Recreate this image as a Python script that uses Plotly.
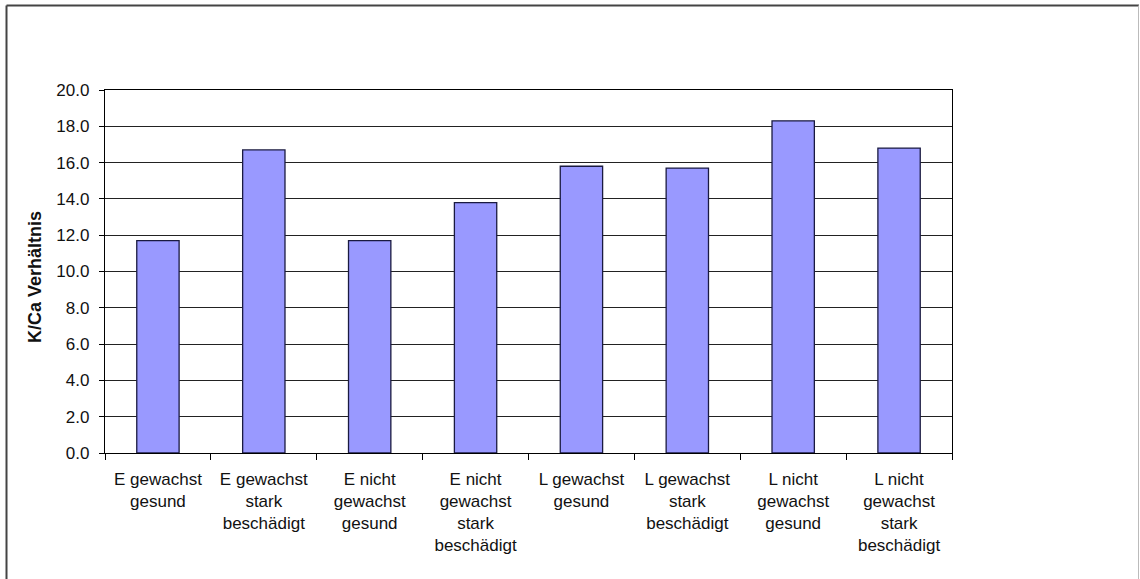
import plotly.graph_objects as go

categories = [
    "E gewachst<br>gesund",
    "E gewachst<br>stark<br>beschädigt",
    "E nicht<br>gewachst<br>gesund",
    "E nicht<br>gewachst<br>stark<br>beschädigt",
    "L gewachst<br>gesund",
    "L gewachst<br>stark<br>beschädigt",
    "L nicht<br>gewachst<br>gesund",
    "L nicht<br>gewachst<br>stark<br>beschädigt",
]
values = [11.7, 16.7, 11.7, 13.8, 15.8, 15.7, 18.3, 16.8]
y_title = "K/Ca Verhältnis"

W, H = 1140, 579
L, R, T, B = 105, 952, 90, 453
pw, ph = R - L, B - T

def px(x):
    return (x - L) / pw

def py(y):
    return (B - y) / ph

FONT = "Liberation Sans, Arial, sans-serif"

fig = go.Figure(
    go.Bar(
        x=categories,
        y=values,
        marker=dict(color="#9999FF", line=dict(color="#1a1a40", width=1.3)),
        width=0.4,
    )
)

fig.update_layout(
    width=W,
    height=H,
    margin=dict(l=L, r=W - R, t=T, b=H - B),
    paper_bgcolor="white",
    plot_bgcolor="white",
    showlegend=False,
    font=dict(family=FONT, size=17, color="#111111"),
    bargap=0.6,
)

fig.update_xaxes(
    showline=True,
    linecolor="#000000",
    linewidth=1.3,
    mirror=True,
    ticks="outside",
    ticklen=6,
    tickcolor="#000000",
    tickson="boundaries",
    showgrid=False,
    tickfont=dict(size=17),
    tickangle=0,
    ticklabelstandoff=10,
)

fig.update_yaxes(
    range=[0, 20],
    dtick=2,
    tick0=0,
    tickformat=".1f",
    showline=True,
    linecolor="#000000",
    linewidth=1.3,
    mirror=True,
    ticks="outside",
    ticklen=5,
    tickcolor="#000000",
    showgrid=True,
    gridcolor="#222222",
    gridwidth=1.2,
    tickfont=dict(size=17),
    ticklabelstandoff=6,
    zeroline=False,
)

fig.add_annotation(
    text="<b>" + y_title + "</b>",
    xref="paper", yref="paper",
    x=px(35), y=py(277),
    showarrow=False,
    textangle=-90,
    font=dict(size=18, family=FONT, color="#111111"),
    xanchor="center", yanchor="middle",
)

# outer frame of the chart area
fig.add_shape(type="line", xref="paper", yref="paper",
              x0=px(6.5), x1=px(6.5), y0=py(5.5), y1=py(585),
              line=dict(color="#444444", width=2))
fig.add_shape(type="line", xref="paper", yref="paper",
              x0=px(6.5), x1=px(1139), y0=py(5.5), y1=py(5.5),
              line=dict(color="#444444", width=2))
fig.add_shape(type="line", xref="paper", yref="paper",
              x0=px(1138.5), x1=px(1138.5), y0=py(5.5), y1=py(585),
              line=dict(color="#bbbbbb", width=1))

fig.write_html("out.html")
